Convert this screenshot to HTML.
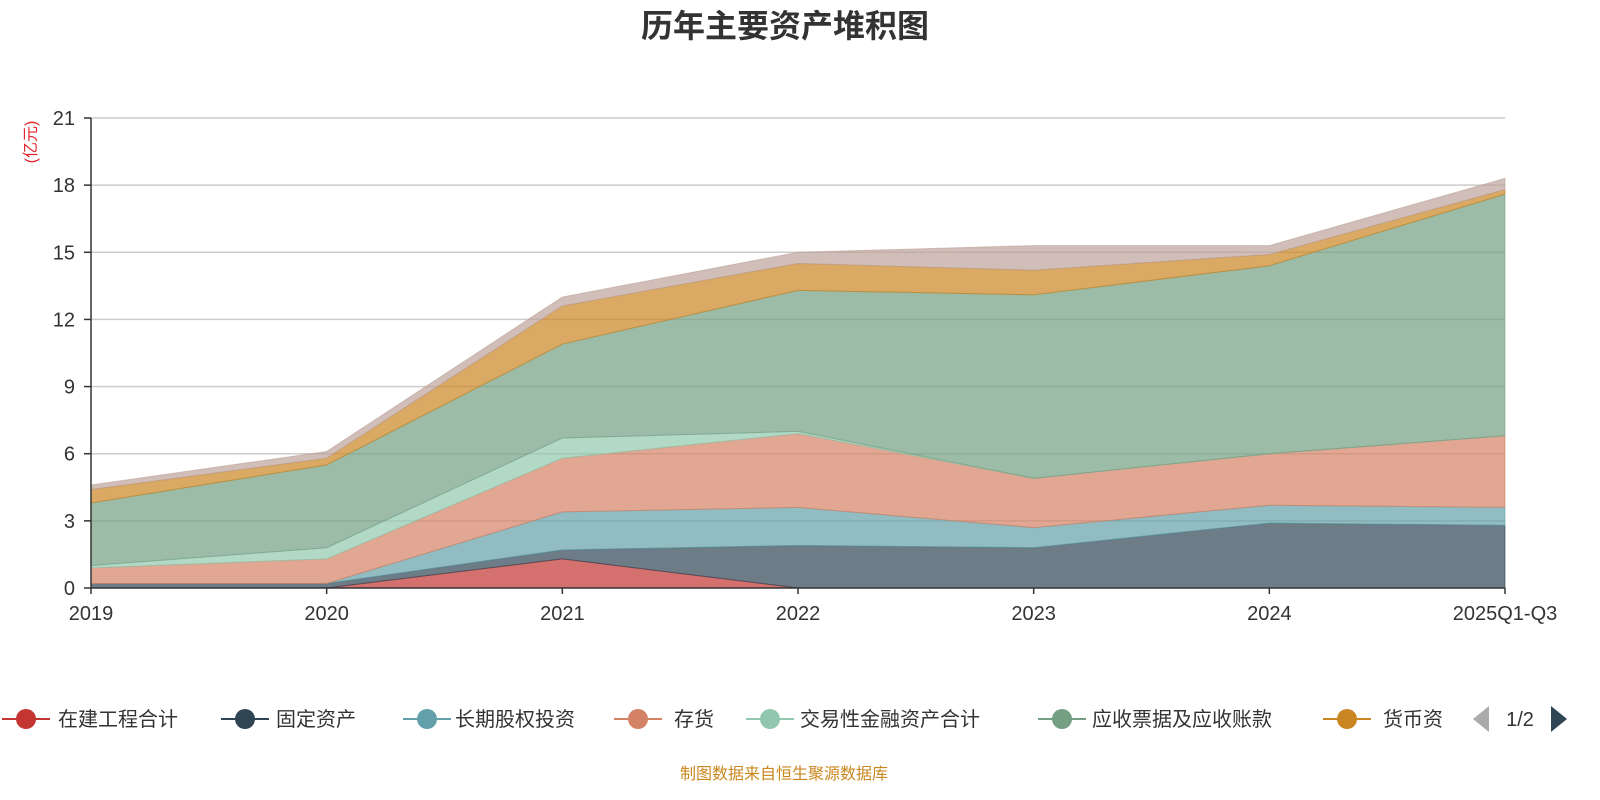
<!DOCTYPE html>
<html><head><meta charset="utf-8"><style>
html,body{margin:0;padding:0;background:#fff;overflow:hidden;width:1600px;height:800px;font-family:"Liberation Sans","Noto Sans CJK SC",sans-serif}
svg{display:block}
svg text{font-family:"Liberation Sans","Noto Sans CJK SC",sans-serif}
</style></head><body>
<svg id="c" width="1600" height="800">
<text x="785" y="37" text-anchor="middle" font-size="32" font-weight="bold" fill="#333">历年主要资产堆积图</text>
<text transform="translate(36,142) rotate(-90)" text-anchor="middle" font-size="16" fill="#e0262e">(亿元)</text>
<g id="grid"></g><g id="areas"></g><g id="axes"></g><g id="legend"></g>
<text x="784" y="779" text-anchor="middle" font-size="16" fill="#c9871f">制图数据来自恒生聚源数据库</text>
</svg>
<script>
const categories=["2019","2020","2021","2022","2023","2024","2025Q1-Q3"];
const seriesNames=["在建工程合计","固定资产","长期股权投资","存货","交易性金融资产合计","应收票据及应收账款","货币资金","其他"];
const s0=[0,0,1.3,0,0,0,0];
const s1=[0.2,0.2,0.4,1.9,1.8,2.9,2.8];
const s2=[0,0,1.7,1.7,0.9,0.8,0.8];
const s3=[0.7,1.1,2.4,3.3,2.2,2.3,3.2];
const s4=[0.1,0.5,0.9,0.1,0,0,0];
const s5=[2.8,3.7,4.2,6.3,8.2,8.4,10.8];
const s6=[0.6,0.3,1.7,1.2,1.1,0.5,0.2];
const s7=[0.2,0.3,0.4,0.5,1.1,0.4,0.5];
const yTicks=[0,3,6,9,12,15,18,21];
const series=[s0,s1,s2,s3,s4,s5,s6,s7];
const colors=["#c23531","#2f4554","#61a0a8","#d48265","#91c7ae","#749f83","#ca8622","#bda29a"];
const NS="http://www.w3.org/2000/svg";
const X0=91,X1=1505,Y0=588,Y1=118;
const xs=i=>X0+(X1-X0)*i/(categories.length-1);
const ys=v=>Y0-(Y0-Y1)*v/21;
function mk(t,a,p){const e=document.createElementNS(NS,t);for(const k in a)e.setAttribute(k,a[k]);p.appendChild(e);return e;}
const grid=document.getElementById('grid'),axes=document.getElementById('axes'),areas=document.getElementById('areas'),lg=document.getElementById('legend');
yTicks.forEach(t=>{
 if(t>0){const l=mk('line',{x1:X0,x2:X1,y1:ys(t),y2:ys(t),stroke:'#ccc','stroke-width':1.5},grid);
 
 }
 const tx=mk('text',{x:75,y:ys(t)+7,'text-anchor':'end','font-size':20,fill:'#333'},axes);tx.textContent=t;
 
 
 mk('line',{x1:84,x2:X0,y1:ys(t),y2:ys(t),stroke:'#333','stroke-width':1.5},axes);
});
mk('line',{x1:X0,x2:X0,y1:Y1,y2:Y0,stroke:'#333','stroke-width':1.5},axes);
mk('line',{x1:X0,x2:X1,y1:Y0,y2:Y0,stroke:'#333','stroke-width':1.5},axes);
categories.forEach((c,i)=>{
 mk('line',{x1:xs(i),x2:xs(i),y1:Y0,y2:Y0+6,stroke:'#333','stroke-width':1.5},axes);
 const tx=mk('text',{x:xs(i),y:620,'text-anchor':'middle','font-size':20,fill:'#333'},axes);tx.textContent=c;
 
 
});
let base=categories.map(()=>0);
series.forEach((s,k)=>{
 const top=base.map((b,i)=>b+s[i]);
 let d='M'+top.map((v,i)=>xs(i)+','+ys(v)).join('L');
 for(let i=base.length-1;i>=0;i--)d+='L'+xs(i)+','+ys(base[i]);
 const p=mk('path',{d:d+'Z',fill:colors[k],'fill-opacity':0.7,stroke:colors[k],'stroke-width':1,'stroke-opacity':0.6},areas);
 
 
 base=top;
});
const lx=[26,245,427,638,770,1062,1347],tx=[58,276,455,674,800,1092,1383];
for(let k=0;k<7;k++){
 const g=mk('g',{},lg);
 
 
 mk('line',{x1:lx[k]-24,x2:lx[k]+24,y1:719,y2:719,stroke:colors[k],'stroke-width':2},g);
 mk('circle',{cx:lx[k],cy:719,r:10,fill:colors[k]},g);
 const t=mk('text',{x:tx[k],y:726,'font-size':20,fill:'#333'},g);t.textContent=k==6?'货币资':seriesNames[k];
}
const pl=mk('path',{d:'M1489,706L1473,719L1489,732Z',fill:'#aaa'},lg);


const pt=mk('text',{x:1520,y:726,'text-anchor':'middle','font-size':20,fill:'#333'},lg);pt.textContent='1/2';


const pn=mk('path',{d:'M1551,706L1567,719L1551,732Z',fill:'#2f4554'},lg);


</script>
</body></html>
